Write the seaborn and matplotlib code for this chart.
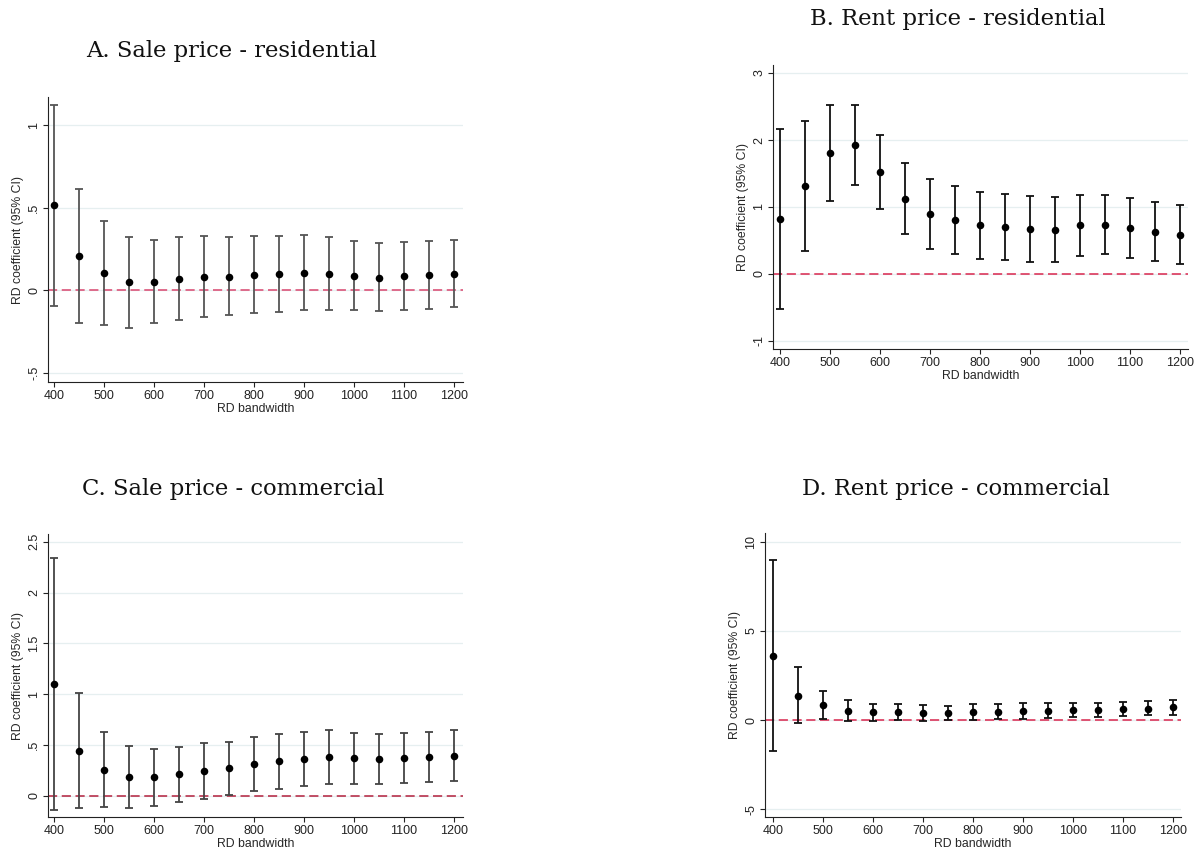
import numpy as np
import pandas as pd
import matplotlib
matplotlib.use("Agg")
import matplotlib.pyplot as plt
from matplotlib.ticker import FuncFormatter
import seaborn as sns

sns.set_style("white")
plt.rcParams["font.family"] = ["Liberation Sans", "DejaVu Sans"]

bandwidth = [400, 450, 500, 550, 600, 650, 700, 750, 800, 850, 900, 950, 1000, 1050, 1100, 1150, 1200]

# A. Sale price - residential
sale_res_coef = [0.514, 0.206, 0.103, 0.048, 0.052, 0.071, 0.083, 0.083, 0.095, 0.099, 0.105, 0.101, 0.089, 0.077, 0.087, 0.091, 0.101]
sale_res_hi = [1.123, 0.611, 0.417, 0.325, 0.306, 0.325, 0.329, 0.321, 0.329, 0.329, 0.333, 0.323, 0.298, 0.286, 0.292, 0.296, 0.304]
sale_res_lo = [-0.093, -0.196, -0.212, -0.226, -0.196, -0.177, -0.163, -0.151, -0.139, -0.133, -0.117, -0.117, -0.121, -0.127, -0.117, -0.113, -0.103]

# B. Rent price - residential
rent_res_coef = [0.816, 1.308, 1.801, 1.920, 1.522, 1.124, 0.891, 0.806, 0.726, 0.701, 0.667, 0.662, 0.726, 0.731, 0.687, 0.632, 0.587]
rent_res_hi = [2.164, 2.289, 2.522, 2.522, 2.075, 1.657, 1.418, 1.308, 1.229, 1.194, 1.159, 1.149, 1.184, 1.174, 1.134, 1.080, 1.035]
rent_res_lo = [-0.517, 0.338, 1.095, 1.328, 0.975, 0.597, 0.378, 0.303, 0.229, 0.209, 0.179, 0.184, 0.274, 0.294, 0.244, 0.194, 0.144]

# C. Sale price - commercial
sale_com_coef = [1.098, 0.443, 0.256, 0.184, 0.180, 0.210, 0.246, 0.269, 0.311, 0.338, 0.364, 0.380, 0.370, 0.364, 0.374, 0.380, 0.393]
sale_com_hi = [2.341, 1.010, 0.630, 0.485, 0.459, 0.482, 0.521, 0.531, 0.577, 0.607, 0.630, 0.646, 0.620, 0.610, 0.620, 0.626, 0.646]
sale_com_lo = [-0.141, -0.121, -0.111, -0.118, -0.098, -0.059, -0.030, 0.007, 0.049, 0.069, 0.098, 0.115, 0.118, 0.118, 0.128, 0.134, 0.148]

# D. Rent price - commercial
rent_com_coef = [3.59, 1.38, 0.84, 0.54, 0.43, 0.43, 0.39, 0.39, 0.43, 0.47, 0.52, 0.54, 0.56, 0.58, 0.61, 0.65, 0.71]
rent_com_hi = [8.97, 2.97, 1.64, 1.14, 0.92, 0.88, 0.86, 0.82, 0.88, 0.89, 0.95, 0.97, 0.97, 0.97, 1.02, 1.08, 1.12]
rent_com_lo = [-1.72, -0.15, 0.04, -0.04, -0.04, -0.02, -0.04, -0.02, 0.02, 0.04, 0.09, 0.13, 0.17, 0.19, 0.22, 0.26, 0.30]


def stata_fmt(v, pos=None):
    # Stata-style labels: .5 instead of 0.5
    s = "%g" % round(v, 4)
    if s.startswith("0."):
        s = s[1:]
    elif s.startswith("-0."):
        s = "-" + s[2:]
    return s


W, H = 1201, 859
fig = plt.figure(figsize=(W / 100, H / 100), dpi=100)

panels = [
    dict(title="A. Sale price - residential", coef=sale_res_coef, lo=sale_res_lo, hi=sale_res_hi,
         box=(48, 97, 463, 382), tpos=(232, 51), ylim=(-0.555, 1.17), yticks=[-0.5, 0, 0.5, 1],
         xlim=(388, 1218), ecol="#555555", zcol="#d9466e"),
    dict(title="B. Rent price - residential", coef=rent_res_coef, lo=rent_res_lo, hi=rent_res_hi,
         box=(773, 65, 1188, 349), tpos=(958, 19), ylim=(-1.12, 3.12), yticks=[-1, 0, 1, 2, 3],
         xlim=(386, 1216), ecol="#111111", zcol="#d9264e"),
    dict(title="C. Sale price - commercial", coef=sale_com_coef, lo=sale_com_lo, hi=sale_com_hi,
         box=(48, 534, 463, 817), tpos=(233, 489), ylim=(-0.21, 2.576), yticks=[0, 0.5, 1, 1.5, 2, 2.5],
         xlim=(388, 1218), ecol="#444444", zcol="#b3203c"),
    dict(title="D. Rent price - commercial", coef=rent_com_coef, lo=rent_com_lo, hi=rent_com_hi,
         box=(765, 533, 1181, 817), tpos=(956, 489), ylim=(-5.43, 10.49), yticks=[-5, 0, 5, 10],
         xlim=(384, 1216), ecol="#111111", zcol="#d9264e"),
]

for p in panels:
    l, t, r, b = p["box"]
    ax = fig.add_axes([l / W, (H - b) / H, (r - l) / W, (b - t) / H])
    df = pd.DataFrame({"bw": bandwidth, "coef": p["coef"], "lo": p["lo"], "hi": p["hi"]})

    for yv in p["yticks"]:
        ax.axhline(yv, color="#e6eff0", lw=0.9, zorder=0)
    ax.axhline(0, color=p["zcol"], lw=1.1, ls=(0, (6, 3)), zorder=1)

    ax.errorbar(df["bw"], df["coef"],
                yerr=[df["coef"] - df["lo"], df["hi"] - df["coef"]],
                fmt="none", ecolor=p["ecol"], elinewidth=1.3, capsize=2.6, capthick=1.3, zorder=2)
    sns.scatterplot(data=df, x="bw", y="coef", ax=ax, color="black", s=30,
                    edgecolor="black", linewidth=0, zorder=3, legend=False)

    ax.set_xlim(*p["xlim"])
    ax.set_ylim(*p["ylim"])
    ax.set_xticks(list(range(400, 1201, 100)))
    ax.set_yticks(p["yticks"])
    ax.yaxis.set_major_formatter(FuncFormatter(stata_fmt))
    for lab in ax.get_yticklabels():
        lab.set_rotation(90)
        lab.set_va("center")
    ax.tick_params(axis="both", direction="out", length=3.5, width=0.8, labelsize=9,
                   colors="#222222", pad=2)
    ax.tick_params(axis="both", bottom=True, left=True)
    ax.set_xlabel("RD bandwidth", fontsize=8.8, labelpad=1)
    ax.set_ylabel("RD coefficient (95% CI)", fontsize=8.8, labelpad=3)
    sns.despine(ax=ax)
    for s in ["left", "bottom"]:
        ax.spines[s].set_color("#222222")
        ax.spines[s].set_linewidth(0.8)

    fig.text(p["tpos"][0] / W, 1 - p["tpos"][1] / H, p["title"], ha="center", va="center",
             fontsize=16.3, family=["DejaVu Serif"], color="#111111")

fig.savefig("out.png", dpi=100)
